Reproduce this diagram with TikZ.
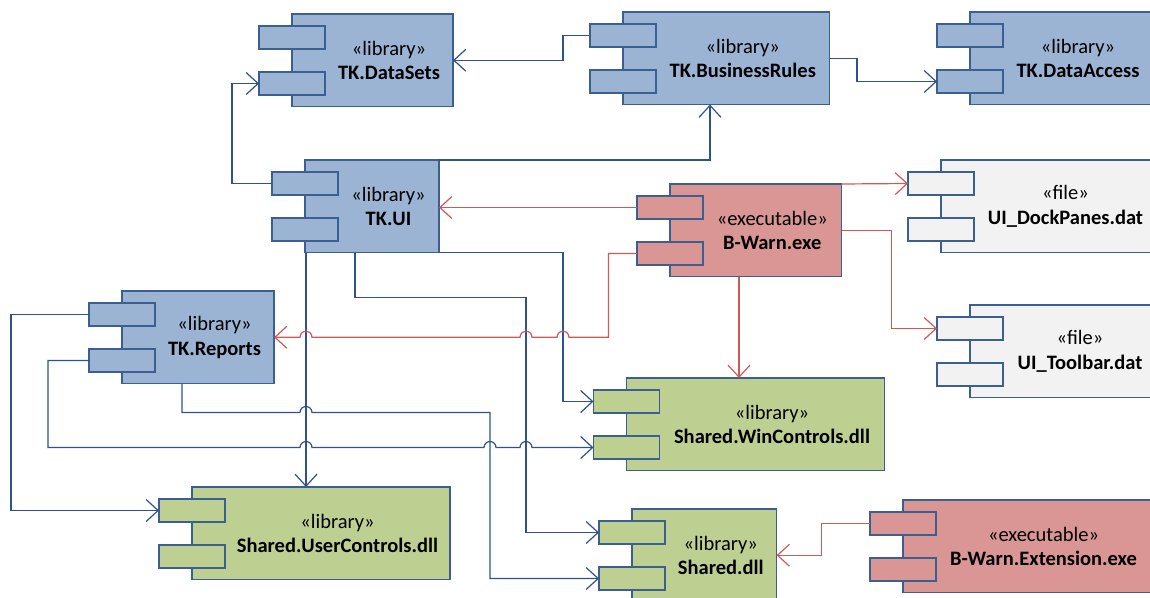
\documentclass[tikz,border=0pt]{standalone}
\usepackage{fontspec}
\setmainfont{Carlito}
\usetikzlibrary{arrows.meta,calc}
\definecolor{bluefill}{RGB}{155,180,212}
\definecolor{greenfill}{RGB}{190,208,145}
\definecolor{redfill}{RGB}{217,150,148}
\definecolor{grayfill}{RGB}{242,242,242}
\definecolor{bordercol}{RGB}{60,95,145}
\definecolor{blueline}{RGB}{47,82,143}
\definecolor{redline}{RGB}{205,90,85}
\tikzset{
  mainbox/.style={draw=bordercol,line width=1.2pt,minimum height=92.5pt,inner sep=0pt,outer sep=0pt},
  tabbox/.style={draw=bordercol,line width=1.2pt,minimum width=66pt,minimum height=23pt,inner sep=0pt,outer sep=0pt},
  lbl/.style={align=center,inner sep=0pt,font=\fontsize{20.5}{24.5}\selectfont},
  dep/.style={draw=blueline,line width=1.2pt,-{Straight Barb[length=12pt,width=22pt]}},
  rdep/.style={draw=redline,line width=1.2pt,-{Straight Barb[length=12pt,width=22pt]}},
}
\newcommand\comp[7]{%
  \node[mainbox,fill=#5,minimum width=#4pt,anchor=north west] (#1) at (#2,#3) {};
  \node[tabbox,fill=#5,anchor=north west] (#1-t1) at ($(#1.north west)+(-33,12)$) {};
  \node[tabbox,fill=#5,anchor=north west] (#1-t2) at ($(#1.north west)+(-33,58)$) {};
  \node[lbl] (#1-l) at ($(#1.center)+(16.5,0)$) {#6\\\textbf{#7}};
}
\begin{document}
\begin{tikzpicture}[x=1pt,y=-1pt]
\useasboundingbox (0,0) rectangle (1150,597);
\clip (0,0) rectangle (1150,597);
\comp{ds}{292}{14}{161}{bluefill}{«library»}{TK.DataSets}
\comp{br}{623}{12}{206.5}{bluefill}{«library»}{TK.BusinessRules}
\comp{da}{970}{12}{183}{bluefill}{«library»}{TK.DataAccess}
\comp{ui}{305}{160}{134}{bluefill}{«library»}{TK.UI}
\comp{bw}{670}{184}{171.5}{redfill}{«executable»}{B-Warn.exe}
\comp{dp}{941}{160}{216}{grayfill}{«file»}{UI\_DockPanes.dat}
\comp{tb}{970}{305}{187}{grayfill}{«file»}{UI\_Toolbar.dat}
\comp{rp}{122}{291}{152}{bluefill}{«library»}{TK.Reports}
\comp{uc}{192}{487}{258}{greenfill}{«library»}{Shared.UserControls.dll}
\comp{wc}{626.5}{378}{258}{greenfill}{«library»}{Shared.WinControls.dll}
\comp{sd}{632}{509}{144.6}{greenfill}{«library»}{Shared.dll}
\comp{ex}{903}{500}{248}{redfill}{«executable»}{B-Warn.Extension.exe}

% blue connectors
\draw[dep] (br-t1.west) -- ++(-27,0) |- (ds.east);
\draw[dep] (br.east) -- ++(27.5,0) |- (da-t2.west);
\draw[dep] (ui.north east) -| ($(br.south west)+(87,0)$);
\draw[dep] (ui-t1.west) -- ++(-40,0) |- (ds-t2.west);
\coordinate (ua) at ($(ui.south west)+(1,0)$);
\coordinate (ub) at ($(ui.south west)+(50,0)$);
\coordinate (rb) at ($(rp.south west)+(60,0)$);
\draw[dep] (ua) -- (ua |- uc.north);
\draw[dep] (ub) -- ++(0,45) -- ++(171,0) coordinate (vb) |- (sd-t1.west);
\draw[dep] (ui.south east) -- ++(124,0) coordinate (vc) |- (wc-t1.west);
\draw[dep] (rp-t1.west) -- ++(-78,0) |- (uc-t1.west);
\draw[dep] (rb) -- ++(0,29) coordinate (r1)
  -- ($(ua |- r1)+(-6,0)$) arc[start angle=180,end angle=0,radius=6pt]
  -- ($(r1)+(308,0)$) coordinate (vr) |- (sd-t2.west);
\draw[dep] (rp-t2.west) -- ++(-41,0) |- ($(ua |- wc-t2.west)+(-6,0)$)
  arc[start angle=180,end angle=0,radius=6pt]
  -- ($(vr |- wc-t2.west)+(-6,0)$) arc[start angle=180,end angle=0,radius=6pt]
  -- ($(vb |- wc-t2.west)+(-6,0)$) arc[start angle=180,end angle=0,radius=6pt]
  -- (wc-t2.west);

% red connectors
\draw[rdep] (bw-t1.west) -- (bw-t1.west -| ui.east);
\draw[rdep] (bw-t2.west) -- ++(-28.5,0) |- ($(vc |- rp.east)+(6,0)$)
  arc[start angle=0,end angle=180,radius=6pt]
  -- ($(vb |- rp.east)+(6,0)$) arc[start angle=0,end angle=180,radius=6pt]
  -- ($(ua |- rp.east)+(6,0)$) arc[start angle=0,end angle=180,radius=6pt]
  -- (rp.east);
\draw[rdep] (bw.north east) -- (dp-t1.west);
\draw[rdep] (bw.east) -- ++(50,0) |- (tb-t1.west);
\coordinate (bs) at ($(bw.south west)+(69,0)$);
\draw[rdep] (bs) -- (bs |- wc.north);
\draw[rdep] (ex-t1.west) -- ++(-48.5,0) |- (sd.east);
\end{tikzpicture}
\end{document}
